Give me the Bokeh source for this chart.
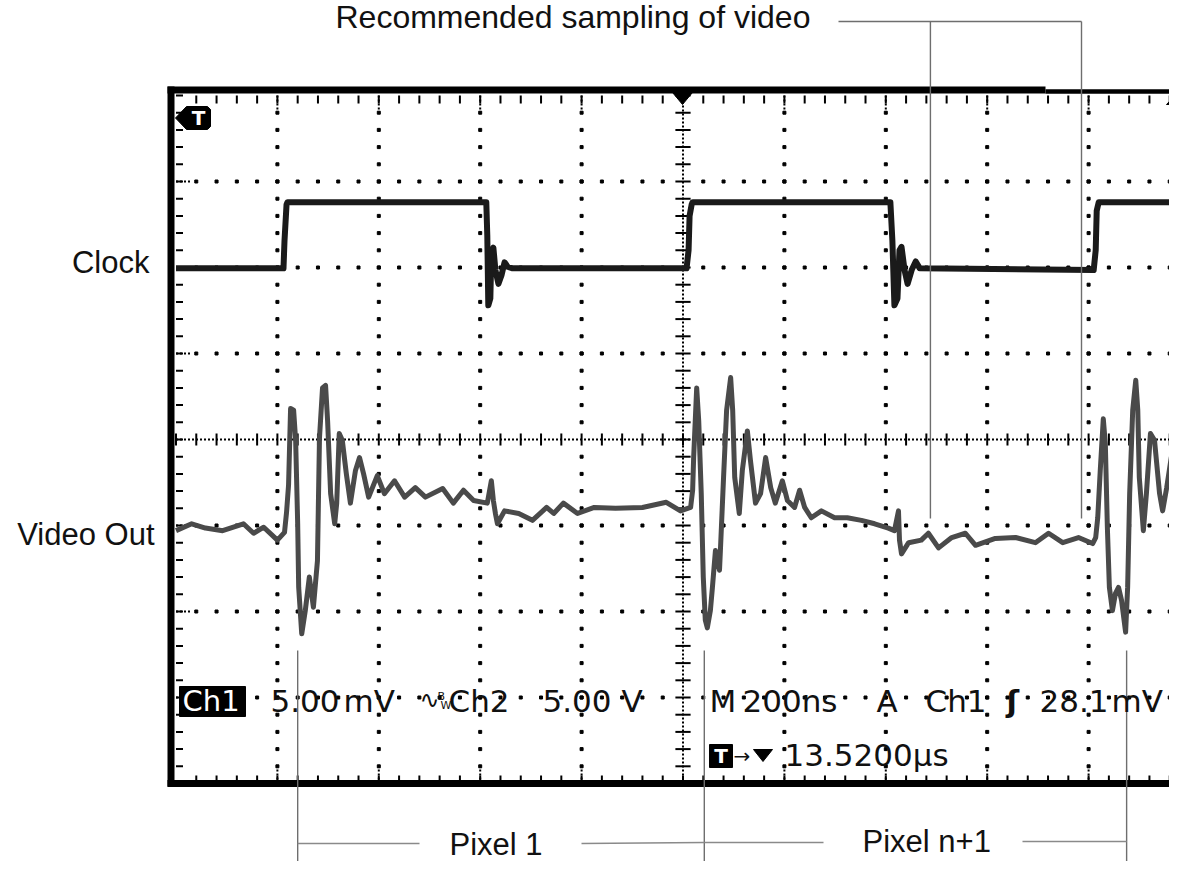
import numpy as np
from bokeh.plotting import figure
from bokeh.models import Range1d
from bokeh.core.properties import value
from bokeh.embed import file_html
from bokeh.resources import INLINE

# ---------------- data (time in ns from left edge of screen, 200 ns/div; level in divisions) ----
NS_PER_DIV = 200
H_DIVS = 10
V_DIVS = 8

clock_t = [0, 212, 214, 218, 220, 612, 614, 616, 620, 622, 626, 630, 636, 642, 648, 654, 664,
           1007, 1011, 1013, 1017, 1019, 1409, 1413, 1417, 1423, 1427, 1431, 1437, 1443, 1451, 1459, 1467,
           1810, 1814, 1816, 1820, 2001]
clock_v = [1.99, 1.99, 2.31, 2.73, 2.76, 2.76, 2.37, 1.56, 1.64, 2.17, 2.23, 1.97, 1.81, 1.91, 2.06, 2.01, 1.99,
           1.99, 2.20, 2.60, 2.73, 2.76, 2.76, 2.31, 1.56, 1.64, 2.20, 2.24, 1.97, 1.81, 1.97, 2.07, 1.99,
           1.97, 2.20, 2.66, 2.76, 2.76]

video_t = [0, 31, 58, 92, 133, 153, 173, 200, 214, 218, 222, 226, 232, 236, 240, 242, 248, 255, 263, 271,
           279, 283, 289, 295, 299, 305, 313, 317, 322, 328, 336, 344, 354, 362, 370, 380, 397, 411, 431, 451,
           472, 492, 526, 547, 567, 587, 614, 622, 626, 630, 634, 648, 676, 703, 731, 745, 764, 792, 825, 867,
           920, 967, 995,
           1015, 1019, 1021, 1027, 1031, 1036, 1040, 1044, 1048, 1054, 1058, 1064, 1072, 1074, 1080, 1086,
           1094, 1098, 1102, 1111, 1117, 1127, 1133, 1143, 1153, 1163, 1173, 1182, 1196, 1206, 1220, 1230,
           1240, 1253, 1273, 1299, 1324, 1352, 1378, 1405, 1417, 1425, 1427, 1431, 1445, 1470, 1484, 1504,
           1530, 1557, 1577, 1616, 1656, 1695, 1721, 1749, 1780, 1808, 1814, 1818, 1823, 1829, 1833, 1837,
           1841, 1847, 1853, 1859, 1865, 1873, 1877, 1881, 1887, 1893, 1897, 1900, 1908, 1914, 1922, 1930,
           1940, 1946, 1954, 1963, 1973, 1983, 1991]
video_v = [-1.06, -0.98, -1.03, -1.06, -0.98, -1.09, -1.02, -1.17, -1.08, -0.85, -0.53, 0.36, 0.34, -0.01,
           -0.98, -1.72, -2.26, -1.99, -1.60, -1.95, -1.41, 0.02, 0.60, 0.63, 0.22, -0.63, -0.98, -0.74, 0.07,
           -0.01, -0.40, -0.74, -0.36, -0.21, -0.40, -0.67, -0.42, -0.63, -0.48, -0.67, -0.56, -0.67, -0.57,
           -0.74, -0.59, -0.71, -0.74, -0.48, -0.71, -0.86, -0.98, -0.83, -0.86, -0.94, -0.79, -0.86, -0.74,
           -0.86, -0.79, -0.80, -0.79, -0.73, -0.83,
           -0.79, -0.59, -0.21, 0.60, 0.22, -0.63, -1.60, -2.10, -2.19, -1.99, -1.72, -1.29, -1.52, -1.26,
           -0.44, 0.34, 0.72, 0.34, -0.44, -0.86, -0.36, 0.10, -0.24, -0.74, -0.63, -0.21, -0.56, -0.74,
           -0.48, -0.71, -0.79, -0.59, -0.79, -0.91, -0.83, -0.91, -0.91, -0.94, -0.98, -1.03, -1.06, -0.83,
           -1.17, -1.33, -1.20, -1.17, -1.09, -1.26, -1.14, -1.09, -1.23, -1.15, -1.14, -1.20, -1.09, -1.20,
           -1.14, -1.21, -1.14, -0.91, -0.36, 0.24, -0.05, -1.02, -1.72, -1.99, -1.79, -1.72, -1.87, -2.24,
           -1.72, -0.63, 0.34, 0.69, 0.34, -0.44, -1.06, -0.63, 0.07, -0.01, -0.63, -0.83, -0.56, -0.21,
           -0.36, -0.71, -0.74]

sample_times_ns = [1488, 1786]          # "Recommended sampling of video"
sample_line_bottom = [-0.92, -0.92]
pixel_bounds_ns = [240, 1042, 1875]     # pixel period boundaries
pixel_labels = ["Pixel 1", "Pixel n+1"]
trace_labels = ["Clock", "Video Out"]

readout_row1 = ["5.00", "mV", "Ch2", "5.00 V", "M", "200ns", "A", "Ch1", "28.1", "mV"]
readout_row2 = ["13.5200\u00b5s"]

# ---------------- layout helpers (screen pixel -> data) ----------------
X0, PXNS = 175.5, 0.507
Y0, PXDIV = 439.0, 86.0
W, H = 1169, 861


def tX(X):
    return (X - X0) / PXNS


def vY(Y):
    return (Y0 - Y) / PXDIV


def base(Y, size):
    # renderer places the alphabetic baseline ~0.37 em lower than requested
    return vY(Y - 0.37 * size)


p = figure(width=W, height=H, x_range=Range1d(tX(0), tX(W)), y_range=Range1d(vY(H), vY(0)),
           output_backend="svg", toolbar_location=None, min_border=0)
p.axis.visible = False
p.grid.visible = False
p.outline_line_color = None
p.background_fill_color = "white"
p.border_fill_color = "white"

T_END = NS_PER_DIV * H_DIVS
V_TOP = V_DIVS / 2
minor_t = np.arange(0, T_END + 1, NS_PER_DIV / 5)
minor_v = np.round(np.arange(-V_TOP, V_TOP + 0.001, 0.2), 3)
major_t = [NS_PER_DIV * d for d in range(1, H_DIVS) if d != H_DIVS // 2]
major_v = [v for v in range(-3, 4) if v != 0]
center_t = NS_PER_DIV * H_DIVS / 2

# graticule dots on major lines
dx, dy = [], []
for t in major_t:
    for v in minor_v[1:-1]:
        if abs(v) > 1e-6:
            dx.append(t); dy.append(v)
for v in major_v:
    for t in minor_t[1:-1]:
        if abs(t - center_t) > 1:
            dx.append(t); dy.append(v)
p.scatter(dx, dy, marker="square", size=3, color="black")

# dense dotted centre lines
p.segment(x0=[center_t], y0=[-V_TOP], x1=[center_t], y1=[V_TOP], line_dash="2 2", line_width=2, color="black")
p.segment(x0=[0], y0=[0], x1=[T_END], y1=[0], line_dash="2 2", line_width=2, color="black")
# centre ticks
p.segment(x0=[center_t - 15] * len(minor_v), y0=list(minor_v), x1=[center_t + 15] * len(minor_v), y1=list(minor_v),
          line_width=2, color="black")
p.segment(x0=list(minor_t), y0=[-0.07] * len(minor_t), x1=list(minor_t), y1=[0.07] * len(minor_t),
          line_width=2, color="black")
# border ticks
tk = 8 / PXDIV
n_in = len(minor_t) - 2
p.segment(x0=list(minor_t[1:-1]), y0=[-V_TOP] * n_in, x1=list(minor_t[1:-1]), y1=[-V_TOP + tk] * n_in,
          line_width=2, color="black")
p.segment(x0=list(minor_t[1:-1]), y0=[V_TOP] * n_in, x1=list(minor_t[1:-1]), y1=[V_TOP - tk] * n_in,
          line_width=2, color="black")
p.segment(x0=[0] * len(minor_v), y0=list(minor_v), x1=[7 / PXNS] * len(minor_v), y1=list(minor_v),
          line_width=2, color="black")
# dense stubs at major lines near borders
stub = 18 / PXDIV
p.segment(x0=major_t, y0=[-V_TOP] * len(major_t), x1=major_t, y1=[-V_TOP + stub] * len(major_t),
          line_dash="2 2", line_width=2, color="black")
p.segment(x0=major_t, y0=[V_TOP] * len(major_t), x1=major_t, y1=[V_TOP - stub] * len(major_t),
          line_dash="2 2", line_width=2, color="black")
p.segment(x0=[0] * len(major_v), y0=major_v, x1=[14 / PXNS] * len(major_v), y1=major_v,
          line_dash="2 2", line_width=2, color="black")

# screen border
p.segment(x0=[tX(170.5)], y0=[vY(86)], x1=[tX(170.5)], y1=[vY(786)], line_width=7, color="black")
p.segment(x0=[tX(167)], y0=[vY(89.5)], x1=[tX(1045)], y1=[vY(89.5)], line_width=7, color="black")
p.segment(x0=[tX(1045)], y0=[vY(91)], x1=[tX(1190)], y1=[vY(91)], line_width=4.5, color="black")
p.segment(x0=[tX(167)], y0=[vY(783)], x1=[tX(1190)], y1=[vY(783)], line_width=7, color="black")

# markers: T icon top-left, trigger position, level arrow
p.patch([tX(v) for v in (175, 186, 207, 210, 210, 207, 186)],
        [vY(v) for v in (117.5, 106, 106, 109, 126, 129, 129)], color="black")
p.text([tX(198)], [base(125, 20)], ["T"], text_font=value("DejaVu Sans"), text_font_size="20px",
       text_font_style="bold", text_color="white", text_align="center", text_baseline="alphabetic")
p.patch([tX(672), tX(692), tX(682)], [vY(92), vY(92), vY(104)], color="black")
p.patch([tX(1166), tX(1187), tX(1176.5)], [vY(104), vY(104), vY(93)], color="black")
p.segment(x0=[tX(1176.5)], y0=[vY(103)], x1=[tX(1176.5)], y1=[vY(113)], line_width=3, color="black")

# traces
p.line(video_t, video_v, line_width=5, color="#4a4a4a", line_join="round")
p.line(clock_t, clock_v, line_width=6, color="#1a1a1a", line_join="round")

# annotation lines
ann = "#6e6e6e"
top_y = vY(21)
p.segment(x0=sample_times_ns, y0=[top_y] * 2, x1=sample_times_ns, y1=sample_line_bottom, line_width=1.4, color=ann)
p.segment(x0=[tX(838)], y0=[top_y], x1=[sample_times_ns[1]], y1=[top_y], line_width=1.4, color=ann)
p.segment(x0=pixel_bounds_ns, y0=[vY(650)] * 3, x1=pixel_bounds_ns, y1=[vY(880)] * 3, line_width=1.4, color=ann)
p.segment(x0=[pixel_bounds_ns[0], tX(581), pixel_bounds_ns[1], tX(1022)],
          y0=[vY(843), vY(843), vY(842), vY(841)],
          x1=[tX(419), pixel_bounds_ns[1], tX(823), pixel_bounds_ns[2]],
          y1=[vY(843), vY(842), vY(842), vY(841)], line_width=1.6, color="#8a8a8a")

# labels
lab_font = value("Liberation Sans")
p.text([tX(335)], [base(28, 32)], ["Recommended sampling of video"], text_font=lab_font, text_font_size="32px",
       text_color="#111111", text_align="left", text_baseline="alphabetic")
p.text([tX(149), tX(154)], [base(273, 31), base(545, 31)], trace_labels, text_font=lab_font,
       text_font_size="31px", text_color="#111111", text_align="right", text_baseline="alphabetic")
p.text([tX(449), tX(862)], [base(855, 31), base(852, 31)], pixel_labels, text_font=lab_font,
       text_font_size="31px", text_color="#111111", text_align="left", text_baseline="alphabetic")

# scope readout
ro_font = value("DejaVu Sans")
p.quad(left=[tX(179)], right=[tX(245)], top=[vY(686)], bottom=[vY(716)], color="black")
p.text([tX(182)], [base(711, 29)], ["Ch1"], text_font=ro_font, text_font_size="29px", text_color="white",
       text_align="left", text_baseline="alphabetic")
row1_x = [270, 343, 448, 542, 709, 742, 876, 925, 1039, 1111]
p.text([tX(x) for x in row1_x], [base(712, 31)] * len(row1_x), readout_row1, text_font=ro_font,
       text_font_size="31px", text_color="#111111", text_align="left", text_baseline="alphabetic")
p.text([tX(419)], [base(708, 24)], ["\u223f"], text_font=ro_font, text_font_size="24px", text_color="#111111",
       text_align="left", text_baseline="alphabetic")
p.text([tX(437), tX(440)], [base(700, 11), base(709, 11)], ["B", "W"], text_font=ro_font,
       text_font_size="11px", text_color="#111111", text_align="left", text_baseline="alphabetic")
p.text([tX(1006)], [base(712, 30)], ["\u0283"], text_font=ro_font, text_font_size="30px",
       text_font_style="bold", text_color="#111111", text_align="left", text_baseline="alphabetic")
# row 2
p.quad(left=[tX(709)], right=[tX(732)], top=[vY(744)], bottom=[vY(767)], color="black")
p.text([tX(720.5)], [base(763, 20)], ["T"], text_font=ro_font, text_font_size="20px", text_font_style="bold",
       text_color="white", text_align="center", text_baseline="alphabetic")
p.text([tX(733)], [base(763, 20)], ["\u2192"], text_font=ro_font, text_font_size="20px", text_color="#111111",
       text_align="left", text_baseline="alphabetic")
p.patch([tX(753), tX(772), tX(762.5)], [vY(749), vY(749), vY(761)], color="black")
p.text([tX(784)], [base(766, 31)], readout_row2, text_font=ro_font, text_font_size="31px", text_color="#111111",
       text_align="left", text_baseline="alphabetic")

open("out.html", "w").write(file_html(p, INLINE))
